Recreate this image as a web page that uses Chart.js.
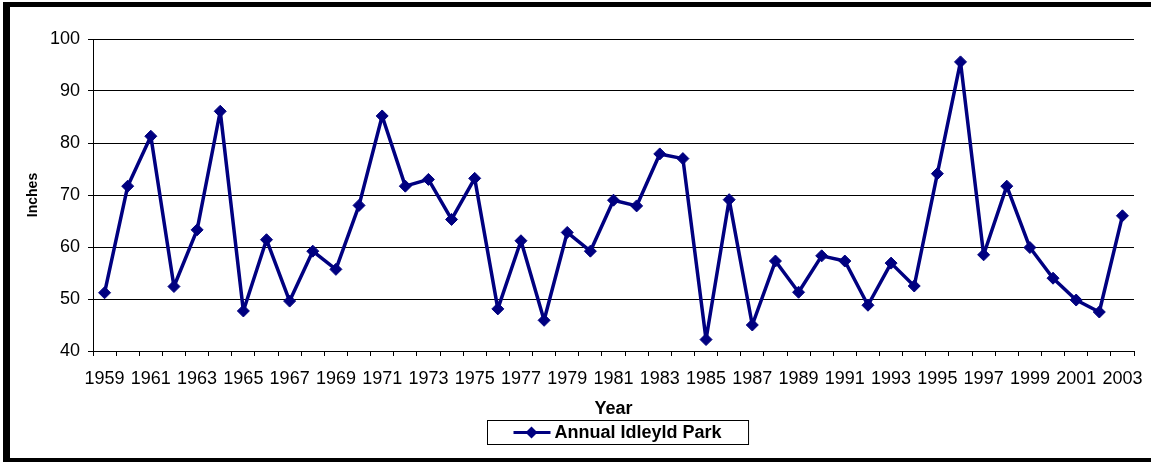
<!DOCTYPE html>
<html>
<head>
<meta charset="utf-8">
<script src="https://cdn.jsdelivr.net/npm/chart.js@4/dist/chart.umd.min.js"></script>
<style>
  html, body { margin:0; padding:0; background:#fff; overflow:hidden; }
  #wrap { position:relative; width:1151px; height:462px; }
  #frame { position:absolute; left:3px; top:2px; width:1200px; height:460px; box-sizing:border-box;
           border-top:5px solid #000; border-left:7px solid #000; border-bottom:4px solid #000; pointer-events:none; }
  canvas { position:absolute; left:0; top:0; }
</style>
</head>
<body>
<div id="wrap">
  <canvas id="c" width="1151" height="462"></canvas>
  <div id="frame"></div>
</div>
<script>
const years = ['1959','1960','1961','1962','1963','1964','1965','1966','1967','1968','1969','1970','1971','1972','1973','1974','1975','1976','1977','1978','1979','1980','1981','1982','1983','1984','1985','1986','1987','1988','1989','1990','1991','1992','1993','1994','1995','1996','1997','1998','1999','2000','2001','2002','2003'];
const annualIdleyldPark = [51.2,71.7,81.3,52.4,63.3,86.1,47.7,61.4,49.6,59.2,55.7,68.0,85.2,71.7,73.0,65.3,73.2,48.1,61.2,45.9,62.8,59.2,69.0,67.9,77.9,77.0,42.2,69.1,45.0,57.3,51.3,58.3,57.3,48.8,56.9,52.5,74.1,95.6,58.5,71.7,59.9,54.0,49.8,47.5,66.0];
const seriesName = 'Annual Idleyld Park';
const yTicks = [40,50,60,70,80,90,100];
const xTitle = 'Year';
const yTitle = 'Inches';

Chart.defaults.font.family = "'Liberation Sans', Arial, sans-serif";
Chart.defaults.color = '#000';

const legendBox = {
  id: 'legendBox',
  afterDraw(chart) {
    const ctx = chart.ctx;
    const ds = chart.data.datasets[0];
    const ca = chart.chartArea;
    ctx.save();
    ctx.font = "bold 18px 'Liberation Sans', Arial, sans-serif";
    const tw = ctx.measureText(ds.label).width;
    const w = 67 + tw + 27;
    const cx = (ca.left + ca.right) / 2 + 4;
    const left = Math.round(cx - w / 2) + 0.5;
    const top = 420.5, h = 24;
    ctx.strokeStyle = '#000';
    ctx.lineWidth = 1;
    ctx.strokeRect(left, top, w, h);
    const my = top + h / 2;
    ctx.strokeStyle = ds.borderColor;
    ctx.lineWidth = 3;
    ctx.beginPath();
    ctx.moveTo(left + 26, my);
    ctx.lineTo(left + 63, my);
    ctx.stroke();
    ctx.fillStyle = ds.pointBackgroundColor;
    const px = left + 44, r = 6;
    ctx.beginPath();
    ctx.moveTo(px, my - r); ctx.lineTo(px + r, my); ctx.lineTo(px, my + r); ctx.lineTo(px - r, my);
    ctx.closePath(); ctx.fill();
    ctx.fillStyle = '#000';
    ctx.textBaseline = 'middle';
    ctx.textAlign = 'left';
    ctx.fillText(ds.label, left + 67, my + 1);
    ctx.restore();
  }
};

new Chart(document.getElementById('c'), {
  type: 'line',
  data: {
    labels: years,
    datasets: [{
      label: seriesName,
      data: annualIdleyldPark,
      borderColor: '#000080',
      backgroundColor: '#000080',
      pointBackgroundColor: '#000080',
      pointBorderColor: '#000080',
      borderWidth: 3.5,
      borderJoinStyle: 'round',
      pointStyle: 'rectRot',
      pointRadius: 6,
      pointBorderWidth: 1,
      tension: 0,
      fill: false
    }]
  },
  options: {
    responsive: false,
    animation: false,
    events: [],
    layout: { padding: { left: 10, top: 39, right: 17, bottom: 42 } },
    plugins: { legend: { display: false }, tooltip: { enabled: false } },
    scales: {
      x: {
        type: 'category',
        offset: true,
        afterFit(s) { s.height = 69; s.paddingRight = 0; s.paddingLeft = 0; },
        grid: { display: true, drawOnChartArea: false, drawTicks: true, tickLength: 5, offset: true, color: '#000', lineWidth: 1 },
        border: { display: true, color: '#000', width: 1 },
        ticks: {
          autoSkip: false, maxRotation: 0, minRotation: 0, padding: 12,
          font: { size: 18 },
          callback(v, i) { return i % 2 === 0 ? years[i] : ''; }
        },
        title: { display: true, text: xTitle, font: { size: 18, weight: 'bold' }, padding: { top: 0, bottom: 0 } }
      },
      y: {
        min: 40, max: 100,
        afterFit(s) { s.width = 83; },
        afterBuildTicks(s) { s.ticks = yTicks.map(v => ({ value: v })); },
        grid: { color: '#000', lineWidth: 1, drawTicks: true, tickLength: 5 },
        border: { display: true, color: '#000', width: 1 },
        ticks: { padding: 8, font: { size: 18 } },
        title: { display: true, text: yTitle, font: { size: 14, weight: 'bold' }, padding: { top: 15, bottom: 0 } }
      }
    }
  },
  plugins: [legendBox]
});
</script>
</body>
</html>
